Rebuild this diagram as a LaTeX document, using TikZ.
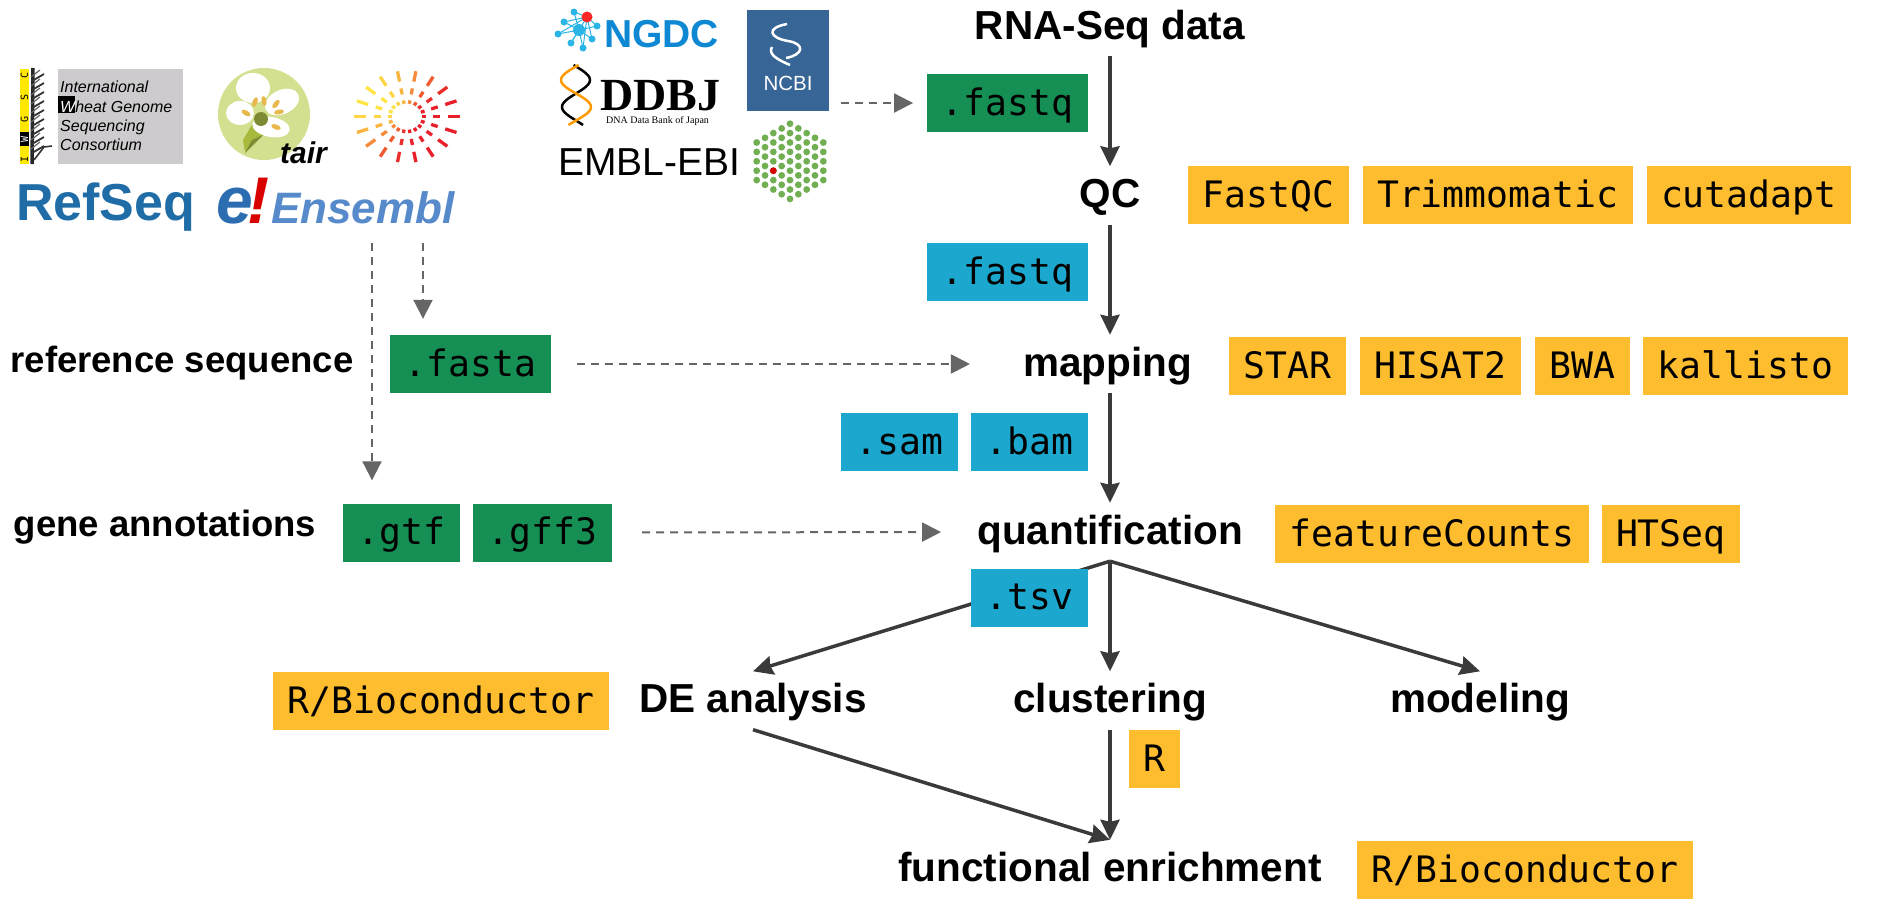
\documentclass[tikz,border=0pt]{standalone}
\usepackage{fontspec}
\setmonofont{DejaVu Sans Mono}
\newfontfamily\logofont{Liberation Sans}
\newfontfamily\logoserif{Liberation Serif}
\usetikzlibrary{positioning,arrows.meta}

\definecolor{rawgreen}{HTML}{158F54}
\definecolor{cleanblue}{HTML}{1CA8CE}
\definecolor{toolorange}{HTML}{FDBD2E}
\definecolor{arrowdark}{HTML}{3A3A3A}
\definecolor{arrowgrey}{HTML}{666666}
\definecolor{sunred}{HTML}{E8202A}
\definecolor{sunyellow}{HTML}{FFE648}
\definecolor{tairgreen}{HTML}{D3E08F}
\definecolor{leaflight}{HTML}{A8B93E}
\definecolor{leafdark}{HTML}{7F8A35}
\definecolor{stamen}{HTML}{E8B84A}
\definecolor{ebigreen}{HTML}{72AE52}
\definecolor{ncbiblue}{HTML}{366596}
\definecolor{ngdccyan}{HTML}{2BB5E6}
\definecolor{iwgscgrey}{HTML}{CDCBCD}

\tikzset{
  flowlabel/.style={font=\logofont\bfseries\fontsize{40.5}{41}\selectfont, inner sep=0pt, text height=41pt, text depth=17pt},
  sidelabel/.style={font=\logofont\bfseries\fontsize{36.5}{37}\selectfont, inner sep=0pt},
  filebox/.style={font=\ttfamily\fontsize{36.4}{36}\selectfont, inner xsep=14.5pt, inner ysep=0pt, text height=41pt, text depth=17pt},
  rawbox/.style={filebox, fill=rawgreen},
  cleanbox/.style={filebox, fill=cleanblue},
  toolbox/.style={filebox, fill=toolorange},
  flowarrow/.style={draw=arrowdark, line width=3.5pt, -{Stealth[length=20pt,width=19pt,inset=2pt]}},
  dataarrow/.style={draw=arrowgrey, line width=2pt, dash pattern=on 8pt off 6pt, -{Triangle[length=19pt,width=19pt]}},
  logotext/.style={inner sep=0pt, anchor=base west},
}

\begin{document}
\begin{tikzpicture}[x=1pt,y=-1pt]
\useasboundingbox (0,0) rectangle (1882,921);

% flow labels
\node[flowlabel] (rna) at (1110,27) {RNA-Seq data};
\node[flowlabel] (qc) at (1110,195.5) {QC};
\node[flowlabel] (mapping) at (1107.5,364) {mapping};
\node[flowlabel] (quant) at (1110,532) {quantification};
\node[flowlabel] (de) at (753,700.5) {DE analysis};
\node[flowlabel] (clustering) at (1110,700.5) {clustering};
\node[flowlabel] (modeling) at (1480,700.5) {modeling};
\node[flowlabel] (enrich) at (1110,869) {functional enrichment};

\node[sidelabel] (refseqlabel) at (182,363) {reference sequence};
\node[sidelabel] (genelabel) at (165,527) {gene annotations};

% connectors
\draw[flowarrow] (rna.south) -- (qc.north);
\draw[flowarrow] (qc.south) -- (qc.south |- mapping.north);
\draw[flowarrow] (quant.north |- mapping.south) -- (quant.north);
\draw[flowarrow] (quant.south) -- (de.north);
\draw[flowarrow] (quant.south) -- (clustering.north);
\draw[flowarrow] (quant.south) -- (modeling.north);
\draw[flowarrow] (clustering.south) -- (enrich.north);
\draw[flowarrow] (de.south) -- (enrich.north);

% file types
\node[rawbox] (rawfastq) at (1007.5,103) {.fastq};
\node[cleanbox] (cleanfastq) at (1007.5,272) {.fastq};
\node[rawbox] (fasta) at (470.5,364) {.fasta};
\node[rawbox] (gtf) at (401.5,532.5) {.gtf};
\node[rawbox, right=13pt of gtf] (gff) {.gff3};
\node[cleanbox] (sam) at (899.5,442) {.sam};
\node[cleanbox, right=13pt of sam] (bam) {.bam};
\node[cleanbox] (tsv) at (1029.5,597.5) {.tsv};

% tools
\node[toolbox, anchor=west] (fastqc) at (1188,195) {FastQC};
\node[toolbox, right=13.5pt of fastqc] (trimmomatic) {Trimmomatic};
\node[toolbox, right=13.5pt of trimmomatic] (cutadapt) {cutadapt};
\node[toolbox, anchor=west] (star) at (1229,366) {STAR};
\node[toolbox, right=14pt of star] (hisat) {HISAT2};
\node[toolbox, right=14pt of hisat] (bwa) {BWA};
\node[toolbox, right=13pt of bwa] (kallisto) {kallisto};
\node[toolbox, anchor=west] (featurecounts) at (1275,534) {featureCounts};
\node[toolbox, right=12pt of featurecounts] (htseq) {HTSeq};
\node[toolbox] (biocde) at (441,701) {R/Bioconductor};
\node[toolbox, anchor=west] (rtool) at (1129,759) {R};
\node[toolbox, anchor=west] (biocenrich) at (1357,870) {R/Bioconductor};

% dashed inputs
\coordinate (ncbiout) at (841,103);
\coordinate (ensemblleft) at (372,243);
\coordinate (ensemblright) at (423,243);
\draw[dataarrow, shorten >=14pt] (ncbiout) -- (rawfastq.west);
\draw[dataarrow, shorten >=23pt] (ensemblleft) -- (ensemblleft |- gtf.north);
\draw[dataarrow, shorten >=16pt] (ensemblright) -- (ensemblright |- fasta.north);
\draw[dataarrow, shorten <=26pt, shorten >=53pt] (fasta.east) -- (mapping.west);
\draw[dataarrow, shorten <=30pt, shorten >=36pt] (gff.east) -- (quant.west);

% IWGSC logo
\fill[yellow!90!orange] (20,69) rectangle (29,164);
\fill[black] (20,132) rectangle (29,146);
\foreach \ltr/\ly/\lcol in {C/75/black,S/97/black,G/119/black,W/139/white,I/159/black}
  \node[font=\ttfamily\fontsize{10}{10}\selectfont, text=\lcol, rotate=90, inner sep=0pt] (iwgsc\ltr) at (24.5,\ly) {\ltr};
\draw[black!85, line width=3.5pt] (33,68) -- (32,164);
\foreach \ly in {74,83,...,146} {
  \draw[black!80, line width=1.8pt] (32,\ly+7) -- (44,\ly);
  \draw[black!60, line width=1.2pt] (31,\ly+3) -- (40,\ly-4);
}
\draw[black!80, line width=1.6pt] (34,160) -- (44,147) -- (52,146);
\fill[iwgscgrey] (58,69) rectangle (183,164);
\fill[black] (58,96) rectangle (75,113);
\node[font=\logofont\itshape\fontsize{16}{19.3}\selectfont, align=left, inner sep=0pt, anchor=north west] (iwgsctext) at (60,81)
  {International\\\textcolor{white}{W}heat Genome\\Sequencing\\Consortium};

% tair logo
\fill[tairgreen] (264,114) circle (46pt);
\fill[leaflight] (253,123) -- (243,140) -- (245,152) -- (263,135) -- cycle;
\fill[leafdark] (263,135) -- (245,153) -- (252,140) -- cycle;
\fill[white] (253,88) ellipse [x radius=17pt, y radius=15pt];
\fill[white] (282,102) ellipse [x radius=18pt, y radius=12pt, rotate=25];
\fill[white] (240,113) ellipse [x radius=14pt, y radius=12pt];
\fill[white] (271,127) ellipse [x radius=19pt, y radius=10pt, rotate=-10];
\fill[leafdark] (261,119) circle (7pt);
\foreach \sx/\sy/\srot in {255/102/70,264/101/100,276/104/50,279/112/10,246/113/-30,276/127/-20}
  \fill[stamen] (\sx,\sy) ellipse [x radius=5pt, y radius=2.5pt, rotate=\srot];
\node[logotext, font=\logofont\bfseries\itshape\fontsize{30}{30}\selectfont] (tair) at (280,163) {tair};

% sun logo
\begin{scope}[shift={(406.7,116.7)}, yscale=.87]
\foreach \a in {0,20,...,340}
  \foreach \ra/\rb in {15/19,26/33,41/53} {
    \pgfmathtruncatemacro\redpc{min(100,max(0,70+70*cos(\a-30)))}
    \draw[sunred!\redpc!sunyellow, line width=3.3pt] (\a:\ra) -- (\a:\rb);
  }
\end{scope}

% RefSeq and Ensembl
\node[logotext, font=\logofont\bfseries\fontsize{52}{52}\selectfont, text={rgb,255:red,31;green,108;blue,166}] (refseq) at (16,220) {RefSeq};
\node[logotext, font=\logofont\bfseries\itshape\fontsize{66}{66}\selectfont, text={rgb,255:red,44;green,108;blue,176}] (ensemble) at (216,223) {e};
\node[logotext, font=\logofont\bfseries\itshape\fontsize{66}{66}\selectfont, text=red!85!black] (ensemblbang) at (247,223) {!};
\node[logotext, font=\logofont\bfseries\itshape\fontsize{44}{44}\selectfont, text={rgb,255:red,86;green,138;blue,203}] (ensembl) at (271,223) {Ensembl};

% NGDC logo
\foreach \px/\py in {574/12,597/26,592/39,583/48,571/43,558/34,564/22} {
  \draw[ngdccyan, line width=1pt] (579,30) -- (\px,\py);
  \draw[ngdccyan, line width=1pt] (587,17) -- (\px,\py);
  \fill[ngdccyan] (\px,\py) circle (3.5pt);
}
\fill[ngdccyan] (579,30) circle (6pt);
\fill[red!85!white] (587,17) circle (5.5pt);
\node[logotext, font=\logofont\bfseries\fontsize{39}{39}\selectfont, text={rgb,255:red,14;green,136;blue,210}] (ngdc) at (604,47) {NGDC};

% DDBJ logo
\draw[black, line width=2.5pt, domain=65:125, samples=40, smooth] plot ({576+14*cos(360*(\x-80)/54)},\x);
\draw[orange!80!yellow, line width=2.5pt, domain=65:125, samples=40, smooth] plot ({576-15*cos(360*(\x-80)/54)},\x);
\node[logotext, font=\logoserif\bfseries\fontsize{46}{46}\selectfont] (ddbj) at (600,110) {DDBJ};
\node[logotext, font=\logoserif\fontsize{10}{10}\selectfont] (ddbjsub) at (606,123) {DNA Data Bank of Japan};

% EMBL-EBI logo
\node[logotext, font=\logofont\fontsize{39}{39}\selectfont] (ebi) at (558,175) {EMBL-EBI};
\foreach \k in {-4,...,4} {
  \pgfmathtruncatemacro\dotn{8-abs(\k)}
  \foreach \i in {0,...,\dotn}
    \fill[ebigreen] ({790+\k*8.33},{161.3+(\i-\dotn/2)*9.4}) circle (3.4pt);
}
\fill[red!85!black] ({790-2*8.33},{161.3+9.4}) circle (3.4pt);

% NCBI logo
\fill[ncbiblue] (747,10) rectangle (829,111);
\draw[white, line width=2.5pt] (787,24) .. controls (765,28) and (770,38) .. (788,41) .. controls (806,44) and (803,55) .. (786,58);
\draw[white, line width=2.5pt] (772,47) .. controls (768,54) and (776,59) .. (790,65);
\node[font=\logofont\fontsize{20.5}{20}\selectfont, text=white, inner sep=0pt] (ncbi) at (788,83) {NCBI};
\end{tikzpicture}
\end{document}
